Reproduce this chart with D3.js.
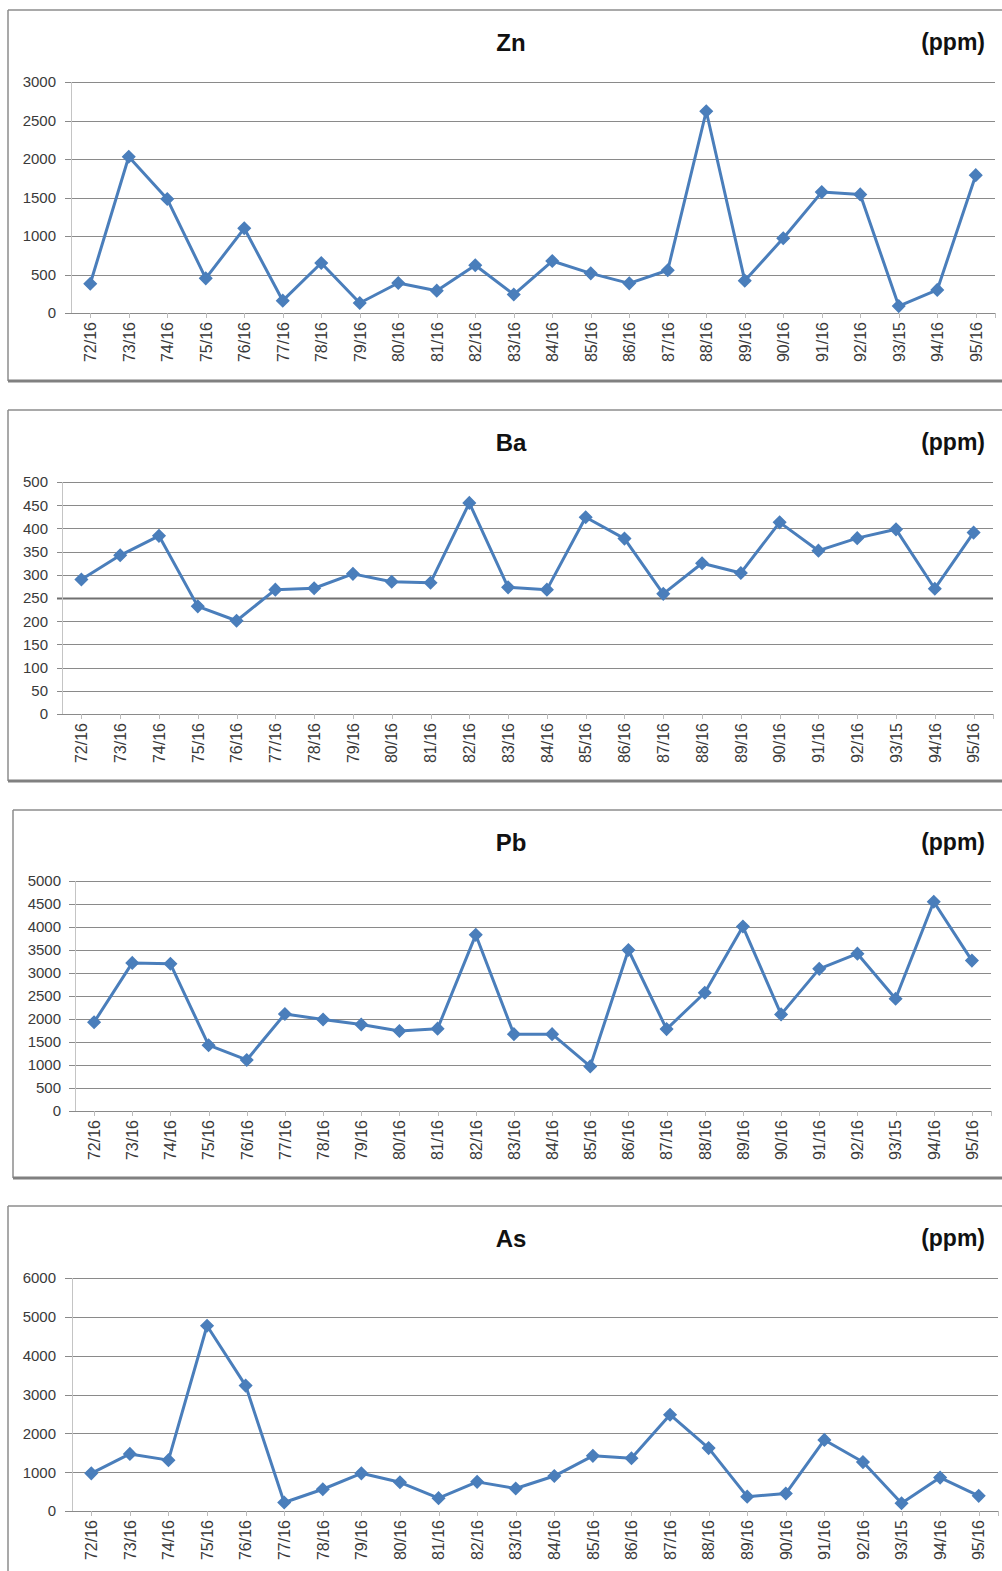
<!DOCTYPE html>
<html>
<head>
<meta charset="utf-8">
<script src="https://cdn.jsdelivr.net/npm/d3@7"></script>
<style>
  html, body { margin: 0; padding: 0; background: #fff; }
  svg { display: block; }
  text { font-family: "Liberation Sans", Arial, sans-serif; }
</style>
</head>
<body>
<svg id="chart" width="1002" height="1571"></svg>
<script>
// ---------- DATA ----------
const categories = ["72/16","73/16","74/16","75/16","76/16","77/16","78/16","79/16","80/16","81/16","82/16","83/16",
                    "84/16","85/16","86/16","87/16","88/16","89/16","90/16","91/16","92/16","93/15","94/16","95/16"];

const znValues = [380, 2030, 1480, 450, 1100, 160, 650, 130, 390, 290, 620, 240,
                  675, 515, 385, 555, 2620, 420, 970, 1570, 1540, 90, 300, 1790];
const baValues = [290, 342, 384, 232, 201, 268, 271, 302, 285, 283, 455, 273,
                  268, 424, 378, 259, 325, 304, 413, 352, 379, 398, 270, 391];
const pbValues = [1930, 3220, 3200, 1430, 1110, 2110, 1990, 1880, 1740, 1790, 3830, 1670,
                  1670, 970, 3500, 1780, 2570, 4010, 2100, 3090, 3420, 2440, 4550, 3270];
const asValues = [970, 1470, 1310, 4770, 3230, 220, 560, 970, 740, 330, 750, 580,
                  900, 1420, 1360, 2480, 1620, 370, 450, 1830, 1260, 200, 860, 390];

const titles = ["Zn", "Ba", "Pb", "As"];
const unitLabel = "(ppm)";
const znTicks = [0, 500, 1000, 1500, 2000, 2500, 3000];
const baTicks = [0, 50, 100, 150, 200, 250, 300, 350, 400, 450, 500];
const pbTicks = [0, 500, 1000, 1500, 2000, 2500, 3000, 3500, 4000, 4500, 5000];
const asTicks = [0, 1000, 2000, 3000, 4000, 5000, 6000];

// ---------- LAYOUT ----------
const panels = [
  { title: titles[0], values: znValues, ticks: znTicks,
    frame: {x: 8, y: 10, bottom: 381}, plot: {left: 71, right: 995, top: 82, bottom: 313}, gridStart: 65, labelX: 56 },
  { title: titles[1], values: baValues, ticks: baTicks, thick: 250,
    frame: {x: 8, y: 410, bottom: 781}, plot: {left: 62, right: 993, top: 482, bottom: 714}, gridStart: 57, labelX: 48 },
  { title: titles[2], values: pbValues, ticks: pbTicks,
    frame: {x: 13, y: 810, bottom: 1178}, plot: {left: 75, right: 991, top: 881, bottom: 1111}, gridStart: 69, labelX: 61 },
  { title: titles[3], values: asValues, ticks: asTicks,
    frame: {x: 8, y: 1206, bottom: 1600}, plot: {left: 72, right: 998, top: 1278, bottom: 1511}, gridStart: 65, labelX: 56 }
];

const lineColor = "#4a7ebb";
const gridColor = "#8a8a8a";
const svg = d3.select("#chart");

panels.forEach(p => {
  const g = svg.append("g");

  // frame
  g.append("line").attr("x1", p.frame.x).attr("x2", 1010).attr("y1", p.frame.y).attr("y2", p.frame.y)
    .attr("stroke", "#8c8c8c").attr("stroke-width", 1.5);
  g.append("line").attr("x1", p.frame.x).attr("x2", p.frame.x).attr("y1", p.frame.y).attr("y2", p.frame.bottom)
    .attr("stroke", "#8c8c8c").attr("stroke-width", 1.5);
  g.append("line").attr("x1", p.frame.x).attr("x2", 1010).attr("y1", p.frame.bottom).attr("y2", p.frame.bottom)
    .attr("stroke", "#808080").attr("stroke-width", 3);

  const x = d3.scaleBand().domain(categories).range([p.plot.left, p.plot.right]);
  const y = d3.scaleLinear().domain([0, d3.max(p.ticks)]).range([p.plot.bottom, p.plot.top]);

  // gridlines
  g.append("g").selectAll("line").data(p.ticks).join("line")
    .attr("x1", p.gridStart).attr("x2", p.plot.right)
    .attr("y1", d => Math.round(y(d)) + 0.5).attr("y2", d => Math.round(y(d)) + 0.5)
    .attr("stroke", d => d === p.thick ? "#707070" : gridColor)
    .attr("stroke-width", d => d === p.thick ? 2 : 1);

  // y axis line
  g.append("line").attr("x1", p.plot.left + 0.5).attr("x2", p.plot.left + 0.5)
    .attr("y1", p.plot.top).attr("y2", p.plot.bottom)
    .attr("stroke", "#c4c4c4").attr("stroke-width", 1);

  // y tick labels
  g.append("g").selectAll("text").data(p.ticks).join("text")
    .attr("x", p.labelX).attr("y", d => y(d)).attr("dy", "0.36em")
    .attr("text-anchor", "end").attr("font-size", 15).attr("fill", "#3a3a3a")
    .text(d => d);

  // x ticks
  const tickPos = categories.map(c => x(c) + x.bandwidth() / 2).concat([p.plot.right]);
  g.append("g").selectAll("line").data(tickPos).join("line")
    .attr("x1", d => Math.round(d) + 0.5).attr("x2", d => Math.round(d) + 0.5)
    .attr("y1", p.plot.bottom).attr("y2", p.plot.bottom + 5)
    .attr("stroke", "#bcbcbc").attr("stroke-width", 1);

  // x labels
  g.append("g").selectAll("text").data(categories).join("text")
    .attr("transform", c => `translate(${x(c) + x.bandwidth() / 2},${p.plot.bottom + 9}) rotate(-90)`)
    .attr("dy", "0.36em").attr("text-anchor", "end")
    .attr("font-size", 16).attr("fill", "#3a3a3a")
    .text(c => c);

  // line
  const line = d3.line().x((d, i) => x(categories[i]) + x.bandwidth() / 2).y(d => y(d));
  g.append("path").datum(p.values).attr("d", line)
    .attr("fill", "none").attr("stroke", lineColor).attr("stroke-width", 3).attr("stroke-linejoin", "round");

  // markers
  const sym = d3.symbol().type(d3.symbolSquare).size(72);
  g.append("g").selectAll("path").data(p.values).join("path")
    .attr("d", sym)
    .attr("transform", (d, i) => `translate(${x(categories[i]) + x.bandwidth() / 2},${y(d)}) rotate(45)`)
    .attr("fill", lineColor).attr("stroke", lineColor).attr("stroke-width", 1.5);

  // title
  g.append("text").attr("x", 511).attr("y", p.frame.y + 41)
    .attr("text-anchor", "middle").attr("font-size", 24).attr("font-weight", "bold").attr("fill", "#111")
    .text(p.title);
  g.append("text").attr("x", 985).attr("y", p.frame.y + 40)
    .attr("text-anchor", "end").attr("font-size", 23).attr("font-weight", "bold").attr("fill", "#111")
    .text(unitLabel);
});
</script>
</body>
</html>
